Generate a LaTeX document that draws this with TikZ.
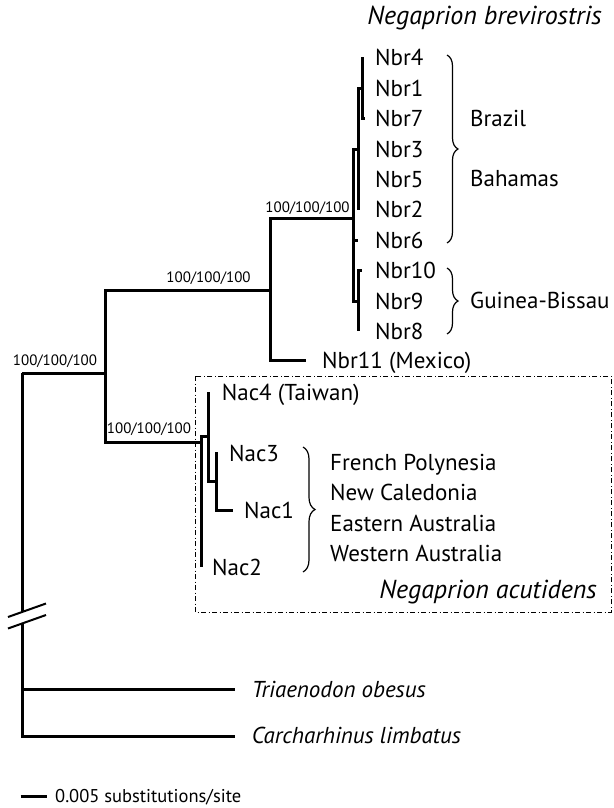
\documentclass[tikz,border=0pt]{standalone}
\usepackage{fontspec}
\setmainfont{PT Sans}
\usetikzlibrary{decorations.pathreplacing}
\begin{document}
\begin{tikzpicture}[x=1pt,y=-1pt,
  branch/.style={line width=3pt, line join=miter, line cap=butt},
  lab/.style={inner sep=0pt, anchor=base west, font=\fontsize{23}{26}\selectfont},
  labi/.style={inner sep=0pt, anchor=base west, font=\fontsize{23}{26}\selectfont\itshape},
  labr/.style={inner sep=0pt, anchor=base east, font=\fontsize{26}{30}\selectfont\itshape},
  sup/.style={inner sep=0pt, anchor=base, font=\fontsize{15}{18}\selectfont},
  bracepath/.style={decorate, decoration={brace, amplitude=11pt}, line width=1.2pt},
  boxline/.style={line width=1pt, dash pattern=on 5pt off 2.5pt on 1pt off 2.5pt}
]
\useasboundingbox (0,0) rectangle (613,808);

% coordinates of tree nodes
\coordinate (root) at (22,373);
\coordinate (brkA) at (22,612);
\coordinate (brkB) at (22,623);
\coordinate (tTri) at (235,689);
\coordinate (tCar) at (235,736);
\coordinate (I) at (105,373);
\coordinate (B) at (270,290.7);
\coordinate (A) at (201.7,442.3);
\coordinate (C) at (353,218.3);
\coordinate (t11) at (306,360.7);
\coordinate (D) at (358,149);
\coordinate (t6) at (358,240);
\coordinate (E) at (358,301);
\coordinate (H) at (362,88);
\coordinate (t4) at (362,57.5);
\coordinate (t7) at (365,118.5);
\coordinate (t2) at (358,209.5);
\coordinate (t10) at (362,270.5);
\coordinate (t8) at (358,331);
\coordinate (F) at (208,436.7);
\coordinate (tN2) at (201.7,566.7);
\coordinate (tN4) at (208,391.7);
\coordinate (G) at (216.7,481.7);
\coordinate (tN3) at (216.7,451.7);
\coordinate (tN1) at (232.7,510);

% branches
\draw[branch] (root) -- (brkA);
\draw[branch] (brkB) |- (tTri);
\draw[branch] (brkB) |- (tCar);
\draw[branch] (root) -- (I);
\draw[branch] (I) |- (B);
\draw[branch] (I) |- (A);
\draw[branch] (B) |- (C);
\draw[branch] (B) |- (t11);
\draw[branch] (C) |- (D);
\draw[branch] (C) |- (t6);
\draw[branch] (C) |- (E);
\draw[branch] (D) |- (H);
\draw[branch] (D) -- (t2);
\draw[branch] (H) -- (t4);
\draw[branch] (H) |- (t7);
\draw[branch] (E) |- (t10);
\draw[branch] (E) -- (t8);
\draw[branch] (A) |- (F);
\draw[branch] (A) -- (tN2);
\draw[branch] (F) -- (tN4);
\draw[branch] (F) |- (G);
\draw[branch] (G) -- (tN3);
\draw[branch] (G) |- (tN1);

% break marks
\coordinate (m1a) at (8,617); \coordinate (m1b) at (46,603.5);
\coordinate (m2a) at (8,628.5); \coordinate (m2b) at (46,615);
\draw[line width=2pt] (m1a) -- (m1b);
\draw[line width=2pt] (m2a) -- (m2b);

% support values
\node[sup] (s1) at (55,365) {100/100/100};
\node[sup] (s2) at (208.5,282) {100/100/100};
\node[sup] (s3) at (307.5,212) {100/100/100};
\node[sup] (s4) at (149,433) {100/100/100};

% Nbr labels
\node[lab] (l4) at (375,65.5) {Nbr4};
\node[lab] (l1) at (375,96) {Nbr1};
\node[lab] (l7) at (375,126.5) {Nbr7};
\node[lab] (l3) at (375,157) {Nbr3};
\node[lab] (l5) at (375,187) {Nbr5};
\node[lab] (l2) at (375,217.5) {Nbr2};
\node[lab] (l6) at (375,248) {Nbr6};
\node[lab] (l10) at (375,278.5) {Nbr10};
\node[lab] (l9) at (375,309) {Nbr9};
\node[lab] (l8) at (375,339) {Nbr8};
\node[lab] (l11) at (322,368.5) {Nbr11 (Mexico)};

% Nac labels
\node[lab] (n4) at (221.7,400) {Nac4 (Taiwan)};
\node[lab] (n3) at (229,461) {Nac3};
\node[lab] (n1) at (244,518) {Nac1};
\node[lab] (n2) at (212,575) {Nac2};

% braces
\coordinate (b1t) at (447,55); \coordinate (b1b) at (447,243);
\coordinate (b2t) at (447,268); \coordinate (b2b) at (447,334);
\coordinate (b3t) at (303,447); \coordinate (b3b) at (303,572);
\draw[bracepath] (b1t) -- (b1b);
\draw[bracepath] (b2t) -- (b2b);
\draw[bracepath, decoration={amplitude=12pt}] (b3t) -- (b3b);

\node[lab] (brz) at (470,126) {Brazil};
\node[lab] (bah) at (470,186) {Bahamas};
\node[lab] (gui) at (470,308) {Guinea-Bissau};
\node[lab] (fp) at (330,470) {French Polynesia};
\node[lab] (nc) at (330,500) {New Caledonia};
\node[lab] (ea) at (330,531) {Eastern Australia};
\node[lab] (wa) at (330,561) {Western Australia};

% dash-dot box
\draw[boxline] (195,376) rectangle (611,612);

% species names
\node[labr] (nbrev) at (602,25) {Negaprion brevirostris};
\node[labr] (nacu) at (597,598) {Negaprion acutidens};
\node[labi] (tri) at (251.7,697) {Triaenodon obesus};
\node[labi] (car) at (251.7,743) {Carcharhinus limbatus};

% scale bar
\coordinate (sa) at (20.7,796); \coordinate (sb) at (46.7,796);
\draw[line width=3pt] (sa) -- (sb);
\node[lab, font=\fontsize{18.5}{22}\selectfont] (sc) at (55,802.5) {0.005 substitutions/site};
\end{tikzpicture}
\end{document}
